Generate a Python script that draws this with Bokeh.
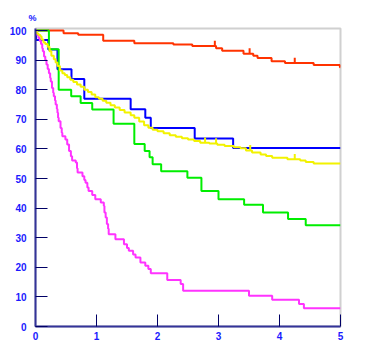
from bokeh.plotting import figure
from bokeh.models import Range1d, FixedTicker
from bokeh.embed import file_html
from bokeh.resources import INLINE

# ---- data (survival %, step changes) ----
x_ticks = [0, 1, 2, 3, 4, 5]
y_ticks = [0, 10, 20, 30, 40, 50, 60, 70, 80, 90, 100]
follow_end = 5.0

red_t = [0, 0.46, 0.70, 1.11, 1.62, 2.26, 2.57, 2.96, 3.06, 3.41, 3.57, 3.64, 3.87, 4.09, 4.56, 4.99]
red_s = [100, 99.1, 98.6, 96.6, 95.7, 95.3, 94.8, 94.0, 93.2, 92.2, 91.5, 90.7, 89.6, 89.0, 88.4, 87.6]
red_c = [2.94, 3.51, 4.25]

blue_t = [0, 0.01, 0.21, 0.36, 0.59, 0.80, 1.56, 1.80, 1.89, 2.61, 3.24]
blue_s = [100, 96.8, 93.6, 86.9, 83.6, 77.0, 73.4, 70.5, 67.1, 63.5, 60.3]
blue_c = []

green_t = [0, 0.22, 0.38, 0.585, 0.74, 0.93, 1.28, 1.62, 1.79, 1.87, 1.92, 2.06, 2.49, 2.72, 3.0, 3.42, 3.73, 4.14, 4.43]
green_s = [100, 93.7, 80.0, 77.8, 75.5, 73.3, 68.5, 61.7, 59.3, 57.2, 54.8, 52.5, 50.3, 45.8, 43.0, 41.1, 38.5, 36.3, 34.2]
green_c = []

yellow_t = [0, 0.02, 0.05, 0.08, 0.10, 0.13, 0.16, 0.20, 0.23, 0.26, 0.30, 0.33, 0.36, 0.40, 0.44,
            0.48, 0.52, 0.57, 0.62, 0.68, 0.74, 0.80, 0.86, 0.92, 0.98, 1.04, 1.10, 1.16, 1.23, 1.30,
            1.38, 1.46, 1.56, 1.62, 1.70, 1.78, 1.85, 1.92, 2.00, 2.10, 2.20, 2.30, 2.40, 2.50, 2.60,
            2.70, 2.85, 2.98, 3.10, 3.25, 3.36, 3.45, 3.55, 3.69, 3.78, 3.88, 4.13, 4.34, 4.43, 4.56]
yellow_s = [100, 99.0, 98.5, 98.0, 97.0, 96.0, 95.5, 94.5, 93.0, 91.5, 90.3, 89.2, 88.0, 86.5, 85.6,
            85.0, 84.2, 83.4, 82.6, 81.8, 81.0, 80.0, 79.2, 78.4, 77.5, 77.0, 76.3, 75.6, 74.8, 74.0,
            73.2, 72.3, 71.4, 70.5, 69.3, 68.0, 67.2, 66.5, 66.0, 65.3, 64.6, 64.1, 63.6, 63.2, 62.7,
            62.1, 61.8, 61.4, 61.0, 60.6, 60.2, 59.5, 58.8, 58.1, 57.6, 57.0, 56.5, 56.1, 55.6, 55.1]
yellow_c = [2.78, 2.96, 3.52, 4.25]

magenta_t = [0, 0.02, 0.05, 0.07, 0.09, 0.11, 0.12, 0.14, 0.16, 0.18, 0.20, 0.22, 0.24, 0.25, 0.27,
             0.29, 0.30, 0.32, 0.33, 0.35, 0.36, 0.37, 0.38, 0.41, 0.43, 0.44, 0.49, 0.52, 0.55, 0.58,
             0.60, 0.66, 0.68, 0.69, 0.77, 0.80, 0.82, 0.85, 0.87, 0.93, 0.98, 1.07, 1.12, 1.13, 1.15,
             1.17, 1.19, 1.20, 1.31, 1.45, 1.50, 1.53, 1.60, 1.64, 1.72, 1.80, 1.85, 1.89, 2.16, 2.38,
             2.42, 3.50, 3.88, 4.32, 4.40]
magenta_s = [100, 98.5, 97.5, 96.5, 95.5, 94.0, 93.0, 91.2, 90.0, 88.5, 87.0, 85.6, 84.0, 82.8, 80.6,
             79.0, 77.8, 76.4, 75.0, 73.5, 72.2, 70.5, 69.4, 67.1, 65.5, 64.3, 63.2, 61.5, 59.3, 57.5,
             56.1, 55.4, 53.5, 52.0, 50.8, 49.5, 48.6, 47.0, 45.8, 44.4, 43.0, 41.9, 40.7, 38.5, 36.8,
             34.6, 33.0, 31.2, 29.5, 27.8, 26.5, 25.6, 24.3, 23.3, 21.6, 20.5, 19.4, 18.0, 15.7, 14.4,
             12.1, 10.4, 9.0, 7.6, 6.2]
magenta_c = []

series = [
    (red_t, red_s, red_c, "#ff3300"),
    (blue_t, blue_s, blue_c, "#0000ff"),
    (green_t, green_s, green_c, "#00ee00"),
    (magenta_t, magenta_s, magenta_c, "#ff33ff"),
    (yellow_t, yellow_s, yellow_c, "#f2f200"),
]

p = figure(width=353, height=353, output_backend="svg", toolbar_location=None,
           x_range=Range1d(0, 5), y_range=Range1d(0, 100.7),
           min_border_left=35, min_border_right=13, min_border_top=28, min_border_bottom=27,
           title="%")
p.title.align = "left"
p.title.offset = -7
p.title.standoff = 12
p.title.text_color = "#1a1aff"
p.title.text_font = "Liberation Sans"
p.title.text_font_style = "bold"
p.title.text_font_size = "9px"

p.background_fill_color = "white"
p.border_fill_color = "white"
p.outline_line_color = "#d0d0d0"
p.outline_line_width = 2
p.xgrid.visible = False
p.ygrid.visible = False

for ax in (p.xaxis[0], p.yaxis[0]):
    ax.axis_line_color = "#333399"
    ax.axis_line_width = 2
    ax.major_tick_in = 12
    ax.major_tick_out = 0
    ax.major_tick_line_color = "#000066"
    ax.major_tick_line_width = 1
    ax.minor_tick_line_color = None
    ax.major_label_text_color = "#1a1aff"
    ax.major_label_text_font = "Liberation Sans"
    ax.major_label_text_font_style = "bold"
    ax.major_label_text_font_size = "10px"

p.xaxis.ticker = FixedTicker(ticks=x_ticks)
p.yaxis.ticker = FixedTicker(ticks=y_ticks)
p.xaxis.major_label_standoff = 5
p.xaxis.major_label_text_align = "right"
p.yaxis.major_label_standoff = 9


def level_at(ts, ss, c):
    v = ss[0]
    for t, s in zip(ts, ss):
        if t <= c:
            v = s
    return v


for ts, ss, cs, col in series:
    xs = list(ts) + [follow_end]
    ys = list(ss) + [ss[-1]]
    p.step(xs, ys, mode="after", line_color=col, line_width=2)
    if cs:
        y0 = [level_at(ts, ss, c) for c in cs]
        y1 = [v + 1.8 for v in y0]
        p.segment(x0=cs, y0=y0, x1=cs, y1=y1, line_color=col, line_width=2)

open("out.html", "w").write(file_html(p, INLINE))
